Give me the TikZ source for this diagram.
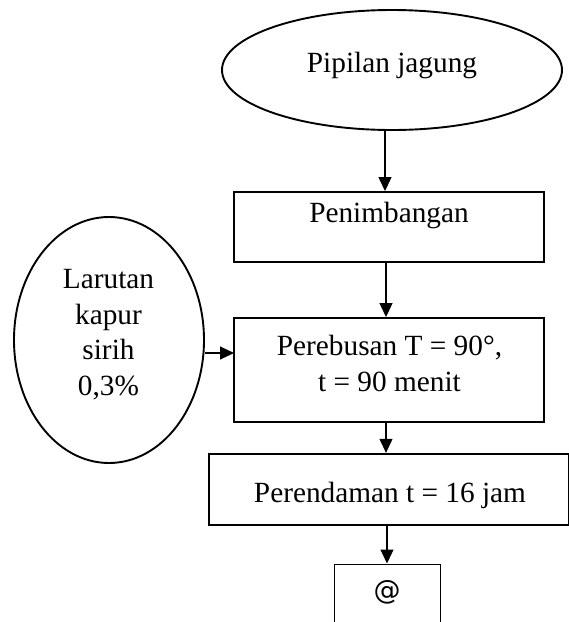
\documentclass[tikz,border=0pt]{standalone}
\usepackage{fontspec}
\setmainfont{Liberation Serif}
\newfontfamily\atfont{DejaVu Sans}
\usetikzlibrary{shapes.geometric,arrows.meta}
\begin{document}
\begin{tikzpicture}[x=1pt,y=-1pt,
  font=\fontsize{29.3}{35.5}\selectfont,
  boxshape/.style={draw,rectangle,line width=1.9pt,inner sep=0pt},
  ellshape/.style={draw,ellipse,line width=1.9pt,inner sep=0pt},
  txt/.style={inner sep=0pt,anchor=base,align=center},
  arr/.style={line width=1.1pt,-{Triangle[length=14pt,width=13pt]}}]
\useasboundingbox (0,0) rectangle (569,622);
% shapes
\node[ellshape,minimum width=340pt,minimum height=120pt] (pip) at (392,70) {};
\node[boxshape,minimum width=310pt,minimum height=70pt] (b1) at (389,227) {};
\node[boxshape,minimum width=310pt,minimum height=104pt] (b2) at (389,370) {};
\node[boxshape,line width=2.3pt,minimum width=360pt,minimum height=71pt] (b3) at (389,489.5) {};
\node[draw,rectangle,line width=1pt,inner sep=0pt,minimum width=106pt,minimum height=90pt] (b4) at (387,609) {};
\node[ellshape,minimum width=190pt,minimum height=246pt] (lar) at (109,340) {};
% texts
\node[txt] (pipt) at (392,72) {Pipilan jagung};
\node[txt] (b1t) at (389,222) {Penimbangan};
\node[txt] (b2t) at (389.5,391) {Perebusan T = 90°,\\t = 90 menit};
\node[txt] (b3t) at (390,502) {Perendaman t = 16 jam};
\node[txt,font=\atfont\fontsize{27}{30}\selectfont] (b4t) at (387,599) {@};
\node[txt] (lart) at (108.5,395) {Larutan\\kapur\\sirih\\0,3\%};
% connectors
\coordinate (ax0) at (385,0);
\coordinate (ax1) at (386,0);
\coordinate (ax2) at (387,0);
\coordinate (in) at (234,353);
\draw[arr] (pip.south -| ax0) -- (b1.north -| ax0);
\draw[arr] (b1.south -| ax1) -- (b2.north -| ax1);
\draw[arr] (b2.south -| ax1) -- (b3.north -| ax1);
\draw[arr] (b3.south -| ax2) -- (b4.north -| ax2);
\draw[arr] (in -| lar.east) -- (in);
\end{tikzpicture}
\end{document}
